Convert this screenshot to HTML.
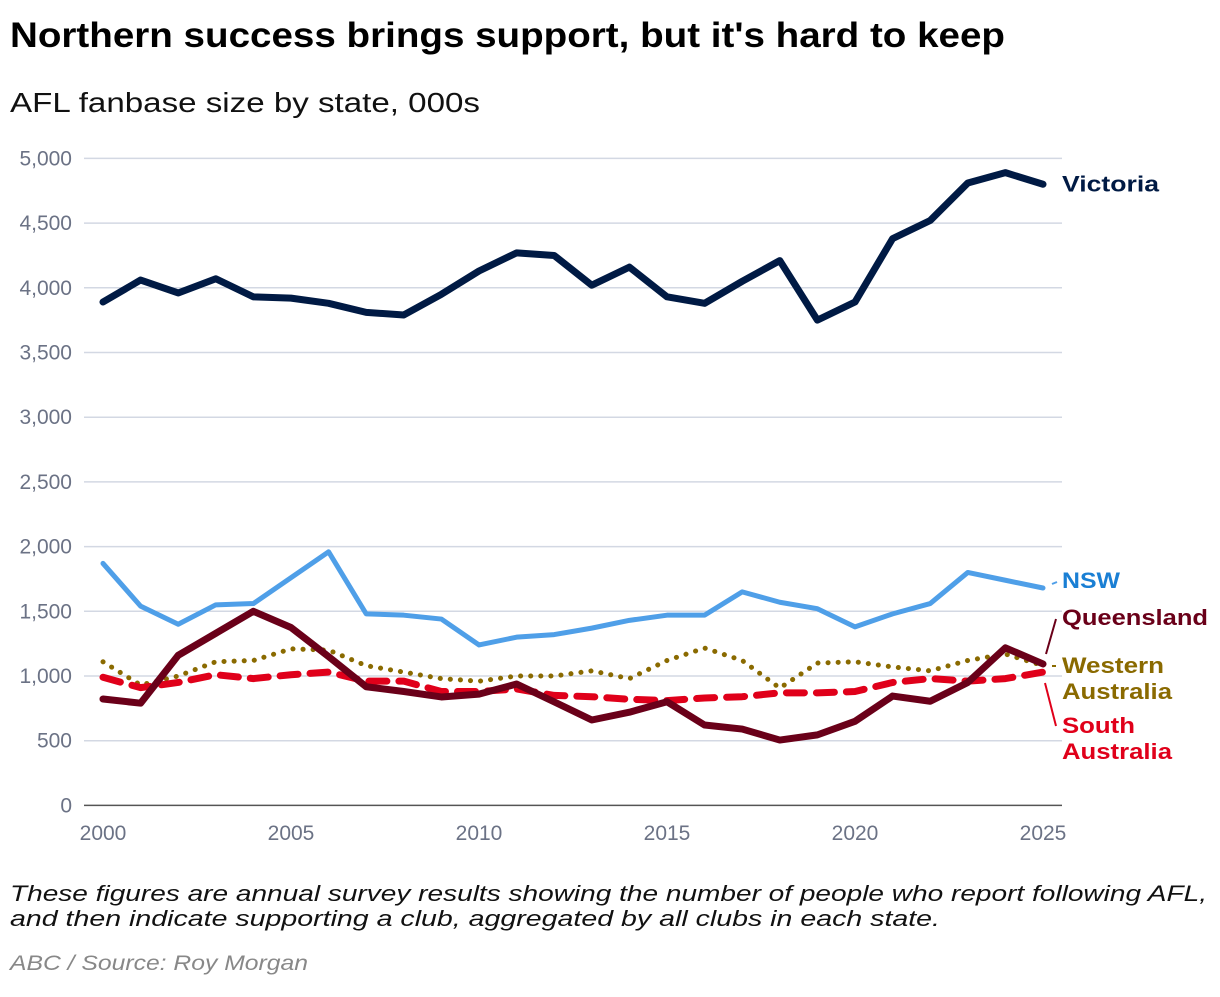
<!DOCTYPE html>
<html><head><meta charset="utf-8"><style>
body{margin:0;background:#fff;width:1220px;height:992px;overflow:hidden;font-family:"Liberation Sans",sans-serif}
</style></head><body>
<svg width="1220" height="992" xmlns="http://www.w3.org/2000/svg">
<text x="10" y="47" font-size="35" font-weight="bold" fill="#000" textLength="995" lengthAdjust="spacingAndGlyphs">Northern success brings support, but it's hard to keep</text>
<text x="10" y="112" font-size="28" fill="#111" textLength="470" lengthAdjust="spacingAndGlyphs">AFL fanbase size by state, 000s</text>
<g id="grid"></g>
<g id="ylab"></g>
<g id="xlab"></g>
<g id="lines"></g>
<g id="labels" font-size="22" font-weight="bold"></g>
<text x="10" y="901" font-size="22" font-style="italic" fill="#111" textLength="1197" lengthAdjust="spacingAndGlyphs">These figures are annual survey results showing the number of people who report following AFL,</text>
<text x="10" y="926" font-size="22" font-style="italic" fill="#111" textLength="930" lengthAdjust="spacingAndGlyphs">and then indicate supporting a club, aggregated by all clubs in each state.</text>
<text x="10" y="970" font-size="21" font-style="italic" fill="#888" textLength="298" lengthAdjust="spacingAndGlyphs">ABC / Source: Roy Morgan</text>
</svg>
<script>
const years=[2000,2001,2002,2003,2004,2005,2006,2007,2008,2009,2010,2011,2012,2013,2014,2015,2016,2017,2018,2019,2020,2021,2022,2023,2024,2025];
const yTicks=[0,500,1000,1500,2000,2500,3000,3500,4000,4500,5000];
const xTicks=[2000,2005,2010,2015,2020,2025];
const victoria=[3890,4060,3960,4070,3930,3920,3880,3810,3790,3950,4130,4270,4250,4020,4160,3930,3880,4050,4210,3750,3890,4380,4520,4810,4890,4800];
const nsw=[1870,1540,1400,1550,1560,1760,1960,1480,1470,1440,1240,1300,1320,1370,1430,1470,1470,1650,1570,1520,1380,1480,1560,1800,1740,1680];
const queensland=[822,790,1160,1330,1500,1375,1150,917,880,838,860,938,800,660,720,801,621,590,505,545,650,845,805,950,1218,1093];
const westernAustralia=[1110,930,1000,1110,1120,1210,1200,1080,1030,980,960,1000,1000,1040,980,1120,1216,1120,907,1100,1110,1070,1040,1120,1170,1080];
const southAustralia=[990,910,950,1010,980,1010,1030,960,960,880,880,900,850,840,820,810,830,840,870,870,880,950,980,960,980,1030];
const NS="http://www.w3.org/2000/svg";
const X=y=>103+(y-2000)*(1043-103)/25;
const Y=v=>805.4-v*0.1294;
function mk(t,a,p){const e=document.createElementNS(NS,t);for(const k in a)e.setAttribute(k,a[k]);p.appendChild(e);return e;}
const g=document.getElementById('grid'),yl=document.getElementById('ylab'),xl=document.getElementById('xlab');
yTicks.forEach(v=>{
 const l=mk('line',{x1:84,x2:1062,y1:Y(v),y2:Y(v),stroke:v===0?'#555':'#d3d8e3','stroke-width':1.5},g);
 
 
 const t=mk('text',{x:72,y:Y(v)+7,'text-anchor':'end','font-size':21,fill:'#6b7285'},yl);
 
 
 t.textContent=v.toLocaleString('en-US');
});
xTicks.forEach(v=>{
 const t=mk('text',{x:X(v),y:840,'text-anchor':'middle','font-size':21,fill:'#6b7285'},xl);
 
 
 t.textContent=v;
});
const L=document.getElementById('lines');
const series=[
 {n:'western-australia-line',d:westernAustralia,c:'#8a6a00',w:5,da:'0.1 10'},
 {n:'south-australia-line',d:southAustralia,c:'#e0001a',w:7,da:'18 12'},
 {n:'nsw-line',d:nsw,c:'#4f9fe8',w:5,da:''},
 {n:'queensland-line',d:queensland,c:'#6a0019',w:7,da:''},
 {n:'victoria-line',d:victoria,c:'#001a44',w:7,da:''}];
series.forEach(s=>{
 const p=mk('polyline',{points:s.d.map((v,i)=>X(years[i])+','+Y(v)).join(' '),fill:'none',stroke:s.c,'stroke-width':s.w,'stroke-linejoin':'round','stroke-linecap':'round'},L);
 if(s.da)p.setAttribute('stroke-dasharray',s.da);
 
 
});
const lab=document.getElementById('labels');
function txt(x,y,c,s,n,w){const t=mk('text',{x:x,y:y,fill:c,textLength:w,lengthAdjust:'spacingAndGlyphs'},lab);t.textContent=s;}
function ln(x1,y1,x2,y2,c,n){const l=mk('line',{x1,y1,x2,y2,stroke:c,'stroke-width':2},lab);}
const last=years.length-1;
txt(1062,Y(victoria[last])+7,'#001a44','Victoria','victoria-label',97);
txt(1062,588,'#1a7fd4','NSW','nsw-label',58);
ln(1052,584,1057,582,'#4f9fe8','nsw-leader');
txt(1062,625,'#6a0019','Queensland','queensland-label',146);
ln(1046,654,1056,619,'#6a0019','queensland-leader');
txt(1062,673,'#8a6a00','Western','wa-label-1',102);
txt(1062,699,'#8a6a00','Australia','wa-label-2',110);
ln(1052,666,1056,666,'#8a6a00','wa-leader');
txt(1062,733,'#e0001a','South','sa-label-1',73);
txt(1062,759,'#e0001a','Australia','sa-label-2',110);
ln(1045,683,1056,726,'#e0001a','sa-leader');
</script>
</body></html>
